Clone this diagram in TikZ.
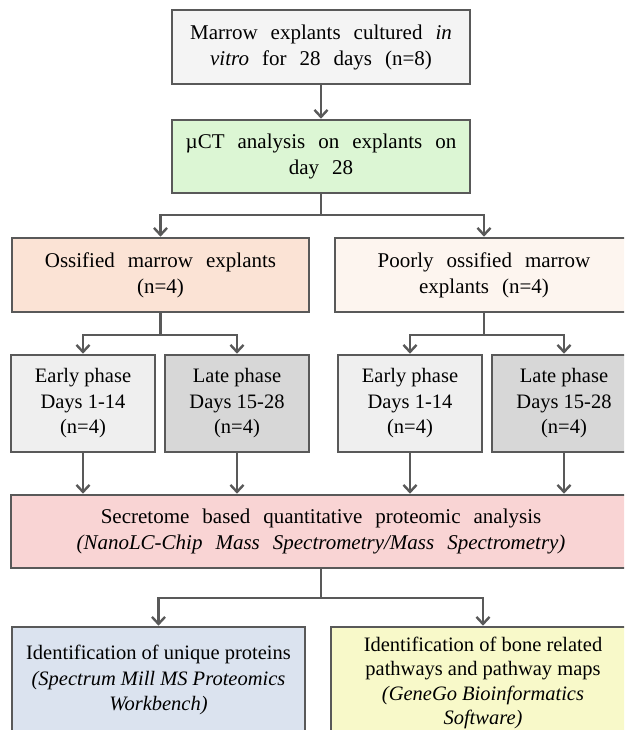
\documentclass[tikz,border=0pt]{standalone}
\usepackage{fontspec}
\setmainfont{Liberation Serif}
\usetikzlibrary{arrows.meta}
\definecolor{edge}{HTML}{595959}
\definecolor{topfill}{HTML}{F4F4F4}
\definecolor{greenfill}{HTML}{DCF6D4}
\definecolor{ossfill}{HTML}{FBE3D5}
\definecolor{poorfill}{HTML}{FDF5EF}
\definecolor{earlyfill}{HTML}{EFEFEF}
\definecolor{latefill}{HTML}{D7D7D7}
\definecolor{pinkfill}{HTML}{F9D4D4}
\definecolor{bluefill}{HTML}{DBE3EF}
\definecolor{yellowfill}{HTML}{F8F9C9}
\begin{document}
\begin{tikzpicture}[x=1pt,y=-1pt,
  box/.style={draw=edge, line width=2.6pt, align=center, inner sep=0pt,
    font=\fontsize{20.5}{25.5}\selectfont},
  wide/.style={font=\fontsize{21}{26}\selectfont,
    execute at begin node={\spaceskip=0.62em plus 0.1em\relax}},
  conn/.style={draw=edge, line width=2.6pt},
  arr/.style={conn, -{Straight Barb[length=7pt,width=13pt,line width=2.4pt]}}]
\useasboundingbox (0,0) rectangle (624,730);
\clip (0,0) rectangle (624,730);
\fill[white] (0,0) rectangle (624,730);

\node[box, wide, fill=topfill, minimum width=298pt, minimum height=74pt] (top) at (321,47)
  {Marrow explants cultured \textit{in}\\\textit{vitro} for 28 days (n=8)};
\node[box, wide, fill=greenfill, minimum width=298pt, minimum height=73pt] (green) at (321,156.5)
  {µCT analysis on explants on\\day 28};
\node[box, wide, fill=ossfill, minimum width=297pt, minimum height=74pt] (oss) at (160.5,275)
  {Ossified marrow explants\\(n=4)};
\node[box, wide, fill=poorfill, minimum width=298pt, minimum height=74pt] (poor) at (484,275)
  {Poorly ossified marrow\\explants (n=4)};

\node[box, fill=earlyfill, minimum width=144pt, minimum height=97pt] (e1) at (83,403.5)
  {Early phase\\Days 1-14\\(n=4)};
\node[box, fill=latefill, minimum width=144pt, minimum height=97pt] (l1) at (237,403.5)
  {Late phase\\Days 15-28\\(n=4)};
\node[box, fill=earlyfill, minimum width=144pt, minimum height=97pt] (e2) at (410,403.5)
  {Early phase\\Days 1-14\\(n=4)};
\node[box, fill=latefill, minimum width=144pt, minimum height=97pt] (l2) at (564,403.5)
  {Late phase\\Days 15-28\\(n=4)};

\node[box, wide, fill=pinkfill, minimum width=620pt, minimum height=73pt] (pink) at (321,531.5)
  {Secretome based quantitative proteomic analysis\\\textit{(NanoLC-Chip Mass Spectrometry/Mass Spectrometry)}};

\node[box, fill=bluefill, minimum width=293pt, minimum height=106pt] (blue) at (158.5,680)
  {Identification of unique proteins\\\textit{(Spectrum Mill MS Proteomics}\\\textit{Workbench)}};
\node[box, fill=yellowfill, minimum width=304pt, minimum height=112pt, font=\fontsize{20.5}{24.5}\selectfont] (yellow) at (483,683)
  {Identification of bone related\\pathways and pathway maps\\\textit{(GeneGo Bioinformatics}\\\textit{Software)}};

\coordinate (b1) at (321,215);
\coordinate (b2) at (160.5,335);
\coordinate (b3) at (484,335);
\coordinate (b4) at (321,598);

\draw[arr] (top.south) -- (green.north);
\draw[conn] (green.south) -- (b1);
\draw[arr] (b1) -| (oss.north);
\draw[arr] (b1) -| (poor.north);
\draw[conn] (oss.south) -- (b2);
\draw[arr] (b2) -| (e1.north);
\draw[arr] (b2) -| (l1.north);
\draw[conn] (poor.south) -- (b3);
\draw[arr] (b3) -| (e2.north);
\draw[arr] (b3) -| (l2.north);
\draw[arr] (e1.south) -- (e1.south |- pink.north);
\draw[arr] (l1.south) -- (l1.south |- pink.north);
\draw[arr] (e2.south) -- (e2.south |- pink.north);
\draw[arr] (l2.south) -- (l2.south |- pink.north);
\draw[conn] (pink.south) -- (b4);
\draw[arr] (b4) -| (blue.north);
\draw[arr] (b4) -| (yellow.north);
\end{tikzpicture}
\end{document}
